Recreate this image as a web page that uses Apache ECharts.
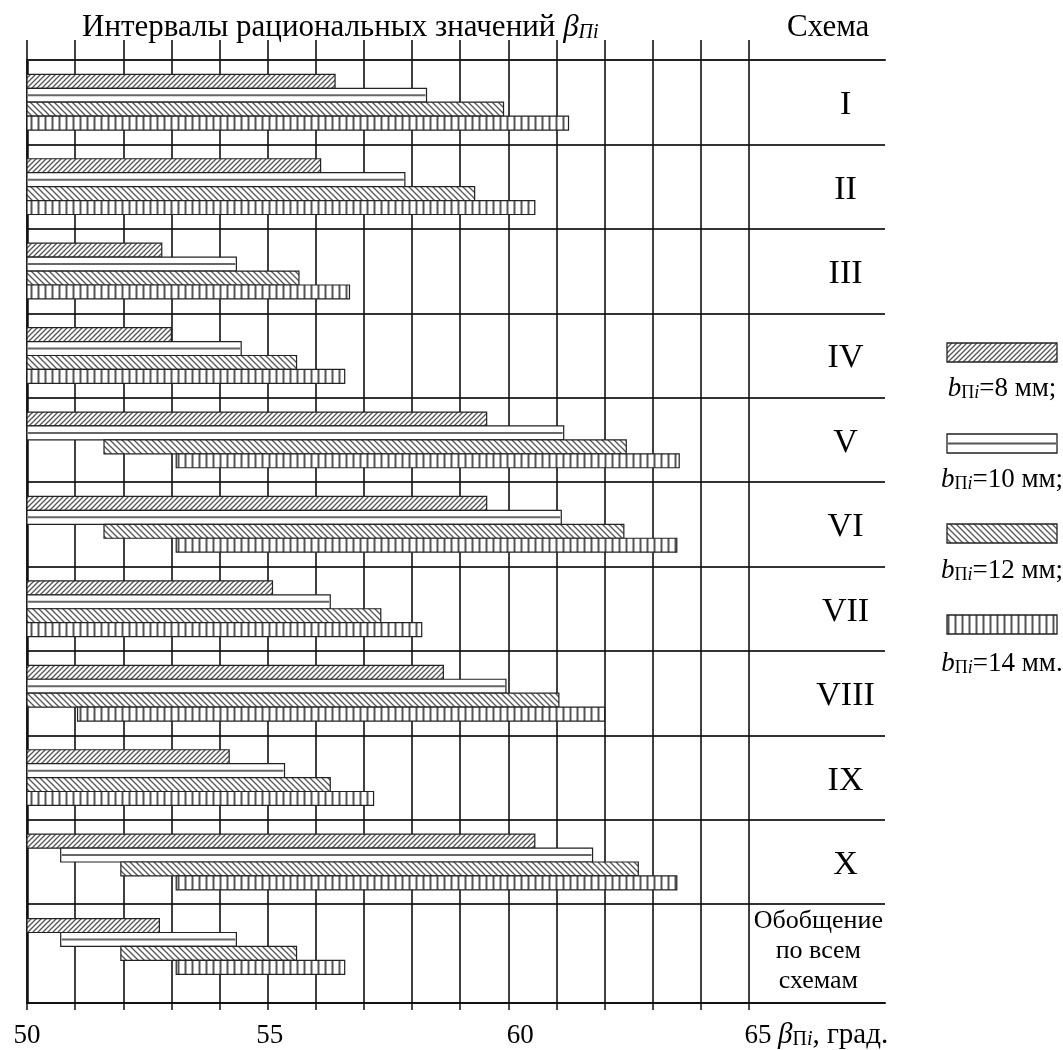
<!DOCTYPE html>
<html>
<head>
<meta charset="utf-8">
<script src="https://cdn.jsdelivr.net/npm/echarts@6/dist/echarts.min.js"></script>
<style>
  html, body { margin: 0; padding: 0; background: #fff; }
  #chart { width: 1063px; height: 1050px; }
</style>
</head>
<body>
<div id="chart"></div>
<script>
// схемы (строки таблицы)
const schemes = ['I', 'II', 'III', 'IV', 'V', 'VI', 'VII', 'VIII', 'IX', 'X', 'Обобщение\nпо всем\nсхемам'];

// интервалы рациональных значений, град.
const from8  = [50, 50, 50, 50, 50, 50, 50, 50, 50, 50, 50];
const to8    = [56.4, 56.1, 52.8, 53.0, 59.55, 59.55, 55.1, 58.65, 54.2, 60.55, 52.75];
const from10 = [50, 50, 50, 50, 50, 50, 50, 50, 50, 50.7, 50.7];
const to10   = [58.3, 57.85, 54.35, 54.45, 61.15, 61.1, 56.3, 59.95, 55.35, 61.75, 54.35];
const from12 = [50, 50, 50, 50, 51.6, 51.6, 50, 50, 50, 51.95, 51.95];
const to12   = [59.9, 59.3, 55.65, 55.6, 62.45, 62.4, 57.35, 61.05, 56.3, 62.7, 55.6];
const from14 = [50, 50, 50, 50, 53.1, 53.1, 50, 51.05, 50, 53.1, 53.1];
const to14   = [61.25, 60.55, 56.7, 56.6, 63.55, 63.5, 58.2, 62.0, 57.2, 63.5, 56.6];

const seriesNames = ['bПi=8 мм', 'bПi=10 мм', 'bПi=12 мм', 'bПi=14 мм'];
const legendTexts = ['=8 мм;', '=10 мм;', '=12 мм;', '=14 мм.'];
const xTickLabels = [50, 55, 60, 65];

const FONT = 'Liberation Serif';
// последняя строка (обобщение) в таблице немного выше остальных
const ROWS_MAX = 11.17;

// штриховки
function hatch(kind) {
  const s = kind === 'v' ? 7 : (kind === '/' ? 5 : 6);
  const c = document.createElement('canvas');
  c.width = s; c.height = s;
  const g = c.getContext('2d');
  g.fillStyle = '#fff';
  g.fillRect(0, 0, s, s);
  g.strokeStyle = '#555';
  g.lineWidth = kind === 'v' ? 2 : 1.3;
  g.beginPath();
  if (kind === '/') {
    g.moveTo(-1, s + 1); g.lineTo(s + 1, -1);
    g.moveTo(-1, 1); g.lineTo(1, -1);
    g.moveTo(s - 1, s + 1); g.lineTo(s + 1, s - 1);
  } else if (kind === '\\') {
    g.moveTo(-1, -1); g.lineTo(s + 1, s + 1);
    g.moveTo(s - 1, -1); g.lineTo(s + 1, 1);
    g.moveTo(-1, s - 1); g.lineTo(1, s + 1);
  } else {
    g.moveTo(s / 2, 0); g.lineTo(s / 2, s);
  }
  g.stroke();
  return { image: c, repeat: 'repeat' };
}
const fills = [hatch('/'), null, hatch('\\'), hatch('v')];

function makeData(from, to) {
  return schemes.map((s, i) => [i, from[i], to[i]]);
}
const seriesData = [
  makeData(from8, to8),
  makeData(from10, to10),
  makeData(from12, to12),
  makeData(from14, to14)
];

function renderBar(params, api) {
  const row = api.value(0) + 0.5;
  const p0 = api.coord([api.value(1), row]);
  const p1 = api.coord([api.value(2), row]);
  const h = api.size([0, 1])[1] * 0.165;
  const k = params.seriesIndex;
  const y = p0[1] - 2 * h + k * h;
  const w = p1[0] - p0[0];
  if (k === 1) {
    return {
      type: 'group',
      children: [
        { type: 'rect', shape: { x: p0[0], y: y, width: w, height: h },
          style: { fill: '#fff', stroke: '#222', lineWidth: 1.2 } },
        { type: 'line', shape: { x1: p0[0] + 1, y1: y + h / 2, x2: p1[0] - 1, y2: y + h / 2 },
          style: { stroke: '#666', lineWidth: 2 } }
      ]
    };
  }
  return {
    type: 'rect',
    shape: { x: p0[0], y: y, width: w, height: h },
    style: { fill: fills[k], stroke: '#222', lineWidth: 1.2 }
  };
}

function renderScheme(params, api) {
  const i = api.value(0);
  const multi = schemes[i].indexOf('\n') >= 0;
  const p = api.coord([multi ? 0.51 : 0.71, i + 0.5]);
  return {
    type: 'text',
    x: p[0],
    y: p[1] + (multi ? 5 : 3),
    style: {
      text: schemes[i],
      font: (multi ? '26px ' : '34px ') + FONT,
      lineHeight: 30,
      fill: '#000',
      align: 'center',
      verticalAlign: 'middle'
    }
  };
}

const series = seriesData.map((d, k) => ({
  name: seriesNames[k],
  type: 'custom',
  xAxisIndex: 0,
  yAxisIndex: 0,
  renderItem: renderBar,
  encode: { x: [1, 2], y: 0 },
  data: d,
  z: 5
}));
series.push({
  name: 'Схема',
  type: 'custom',
  xAxisIndex: 2,
  yAxisIndex: 1,
  renderItem: renderScheme,
  encode: { y: 0 },
  data: schemes.map((s, i) => [i]),
  silent: true
});

// линии строк: без линии на 11 (последняя строка выше)
const rowLineColors = Array.from({ length: 13 }, (_, i) => (i === 11 ? 'rgba(0,0,0,0)' : '#333'));

// легенда справа
const iconTop = [343, 434, 524, 615];
const textMid = [389, 480, 571, 664];
const legendRich = {
  b: { fontFamily: FONT, fontSize: 27, fontStyle: 'italic', fill: '#000' },
  s: { fontFamily: FONT, fontSize: 18, fill: '#000', verticalAlign: 'bottom', lineHeight: 11 },
  si: { fontFamily: FONT, fontSize: 18, fontStyle: 'italic', fill: '#000', verticalAlign: 'bottom', lineHeight: 11 },
  t: { fontFamily: FONT, fontSize: 27, fill: '#000' }
};
const graphics = [];
iconTop.forEach((t, k) => {
  graphics.push({
    type: 'rect',
    shape: { x: 947, y: t, width: 110, height: 19 },
    style: { fill: k === 1 ? '#fff' : fills[k], stroke: '#222', lineWidth: 1.3 }
  });
  if (k === 1) {
    graphics.push({
      type: 'line',
      shape: { x1: 948, y1: t + 9.5, x2: 1056, y2: t + 9.5 },
      style: { stroke: '#555', lineWidth: 2 }
    });
  }
  graphics.push({
    type: 'text',
    x: 1002,
    y: textMid[k],
    style: {
      text: '{b|b}{s|П}{si|i}{t|' + legendTexts[k] + '}',
      rich: legendRich,
      align: 'center',
      verticalAlign: 'middle'
    }
  });
});

// подписи оси X слегка смещены вправо, как в оригинале
const labelShift = { 50: 0, 55: 4, 60: 24, 65: 18 };
const xRich = {};
xTickLabels.forEach(v => {
  xRich['l' + v] = { fontFamily: FONT, fontSize: 27, color: '#000', padding: [0, 0, 0, labelShift[v]] };
});

const chart = echarts.init(document.getElementById('chart'));
chart.setOption({
  backgroundColor: '#fff',
  animation: false,
  title: [
    {
      text: 'Интервалы рациональных значений {b|β}{s|Пi}',
      left: 82, top: 12, padding: 0,
      textStyle: {
        fontFamily: FONT, fontSize: 31, fontWeight: 'normal', color: '#000',
        rich: {
          b: { fontFamily: FONT, fontSize: 31, fontStyle: 'italic', color: '#000' },
          s: { fontFamily: FONT, fontSize: 20, fontStyle: 'italic', color: '#000', verticalAlign: 'bottom', lineHeight: 13 }
        }
      }
    },
    {
      text: 'Схема',
      left: 787, top: 12, padding: 0,
      textStyle: { fontFamily: FONT, fontSize: 31, fontWeight: 'normal', color: '#000' }
    }
  ],
  grid: [
    { left: 27, right: 314, top: 60, bottom: 47, outerBoundsMode: 'none', containLabel: false },
    { left: 749, right: 178, top: 60, bottom: 47, outerBoundsMode: 'none', containLabel: false }
  ],
  xAxis: [
    {
      type: 'value', gridIndex: 0, position: 'bottom',
      min: 50, max: 65, interval: 1,
      axisLine: { show: true, onZero: false, lineStyle: { color: '#111', width: 2 } },
      axisTick: { show: true, length: 7, lineStyle: { color: '#111', width: 1.5 } },
      splitLine: { show: true, lineStyle: { color: '#111', width: 1.6 } },
      axisLabel: {
        margin: 19,
        formatter: v => (xTickLabels.indexOf(v) >= 0 ? '{l' + v + '|' + v + '}' : ''),
        rich: xRich
      },
      name: '{b|β}{s|П}{si|i}, град.',
      nameLocation: 'end',
      nameGap: 29,
      nameTextStyle: {
        fontFamily: FONT, fontSize: 29, color: '#000',
        align: 'left', verticalAlign: 'top', padding: [18, 0, 0, 0],
        rich: {
          b: { fontFamily: FONT, fontSize: 29, fontStyle: 'italic', color: '#000' },
          s: { fontFamily: FONT, fontSize: 20, color: '#000', verticalAlign: 'bottom', lineHeight: 11 },
          si: { fontFamily: FONT, fontSize: 20, fontStyle: 'italic', color: '#000', verticalAlign: 'bottom', lineHeight: 11 }
        }
      }
    },
    {
      type: 'value', gridIndex: 0, position: 'top',
      min: 50, max: 65, interval: 1,
      axisLine: { show: true, onZero: false, lineStyle: { color: '#222', width: 2 } },
      axisTick: { show: true, length: 20, lineStyle: { color: '#111', width: 1.6 } },
      splitLine: { show: false },
      axisLabel: { show: false }
    },
    {
      type: 'value', gridIndex: 1, position: 'bottom', min: 0, max: 1,
      axisLine: { show: true, onZero: false, lineStyle: { color: '#111', width: 2 } },
      axisTick: { show: false }, axisLabel: { show: false }, splitLine: { show: false }
    },
    {
      type: 'value', gridIndex: 1, position: 'top', min: 0, max: 1,
      axisLine: { show: true, onZero: false, lineStyle: { color: '#222', width: 2 } },
      axisTick: { show: false }, axisLabel: { show: false }, splitLine: { show: false }
    }
  ],
  yAxis: [
    {
      type: 'value', gridIndex: 0, inverse: true,
      min: 0, max: ROWS_MAX, interval: 1,
      axisLine: { show: true, onZero: false, lineStyle: { color: '#111', width: 2.5 } },
      axisTick: { show: false }, axisLabel: { show: false },
      splitLine: { show: true, lineStyle: { color: rowLineColors, width: 2 } }
    },
    {
      type: 'value', gridIndex: 1, inverse: true,
      min: 0, max: ROWS_MAX, interval: 1,
      axisLine: { show: false, onZero: false }, axisTick: { show: false }, axisLabel: { show: false },
      splitLine: { show: true, lineStyle: { color: rowLineColors, width: 2 } }
    }
  ],
  series: series,
  graphic: graphics
});
</script>
</body>
</html>
